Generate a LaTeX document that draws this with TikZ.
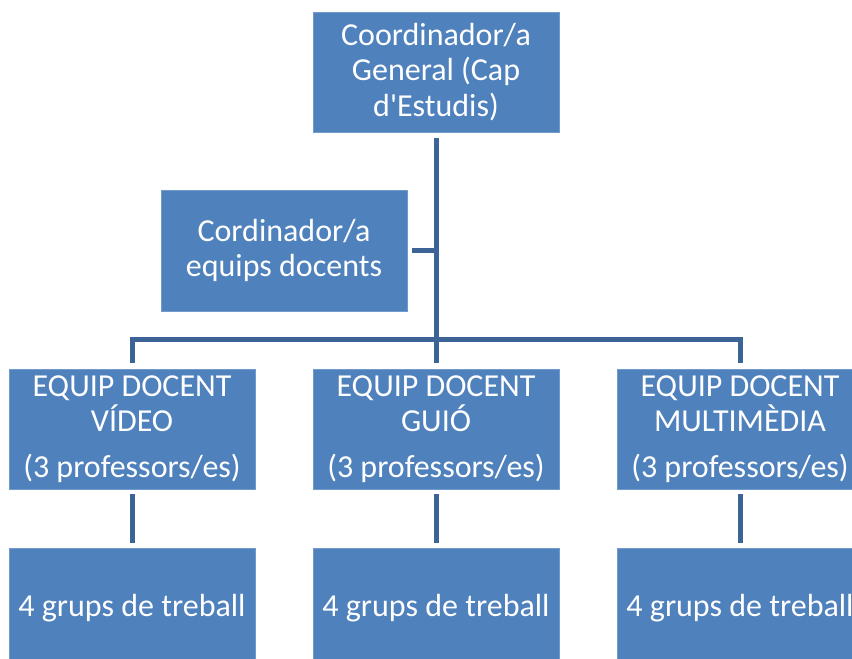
\documentclass[tikz,border=0pt]{standalone}
\usepackage{fontspec}
\setmainfont{Carlito}
\newfontfamily\straightfont{Carlito}
\definecolor{boxblue}{HTML}{4F81BD}
\definecolor{lineblue}{HTML}{3C6496}
\begin{document}
\begin{tikzpicture}[x=1pt,y=-1pt,
  orgbox/.style={rectangle, fill=boxblue, draw=boxblue!80!white, line width=0.8pt,
    minimum width=246pt, minimum height=120pt, inner sep=0pt, text=white,
    align=center, font=\fontsize{32}{35.5}\selectfont},
  conn/.style={draw=lineblue, line width=5pt, line cap=butt, line join=miter}]
\useasboundingbox (0,0) rectangle (852,659);
\begin{scope}
\clip (0,0) rectangle (852,659);
\node[orgbox] (top) at (436,72) {Coordinador/a\\General (Cap\\{\straightfont d'Estudis)}};
\node[orgbox, minimum height=121pt] (coord) at (284,250.5) {Cordinador/a\\equips docents};
\node[orgbox] (e1) at (132,429) {EQUIP DOCENT\\VÍDEO\\[10pt](3 professors/es)};
\node[orgbox] (e2) at (436,429) {EQUIP DOCENT\\GUIÓ\\[10pt](3 professors/es)};
\node[orgbox] (e3) at (740,429) {EQUIP DOCENT\\MULTIMÈDIA\\[10pt](3 professors/es)};
\node[orgbox] (g1) at (132,608) {4 grups de treball};
\node[orgbox] (g2) at (436,608) {4 grups de treball};
\node[orgbox] (g3) at (740,608) {4 grups de treball};
\coordinate (bus) at (436,339.5);
\draw[conn, shorten <=6pt, shorten >=6pt] (top.south) -- (e2.north);
\draw[conn, shorten <=6pt, shorten >=6pt] (e1.north) |- (bus) -| (e3.north);
\draw[conn, shorten <=5pt] (coord.east) -- (coord.east -| bus);
\draw[conn, shorten <=5pt, shorten >=5pt] (e1.south) -- (g1.north);
\draw[conn, shorten <=5pt, shorten >=5pt] (e2.south) -- (g2.north);
\draw[conn, shorten <=5pt, shorten >=5pt] (e3.south) -- (g3.north);
\end{scope}
\end{tikzpicture}
\end{document}
